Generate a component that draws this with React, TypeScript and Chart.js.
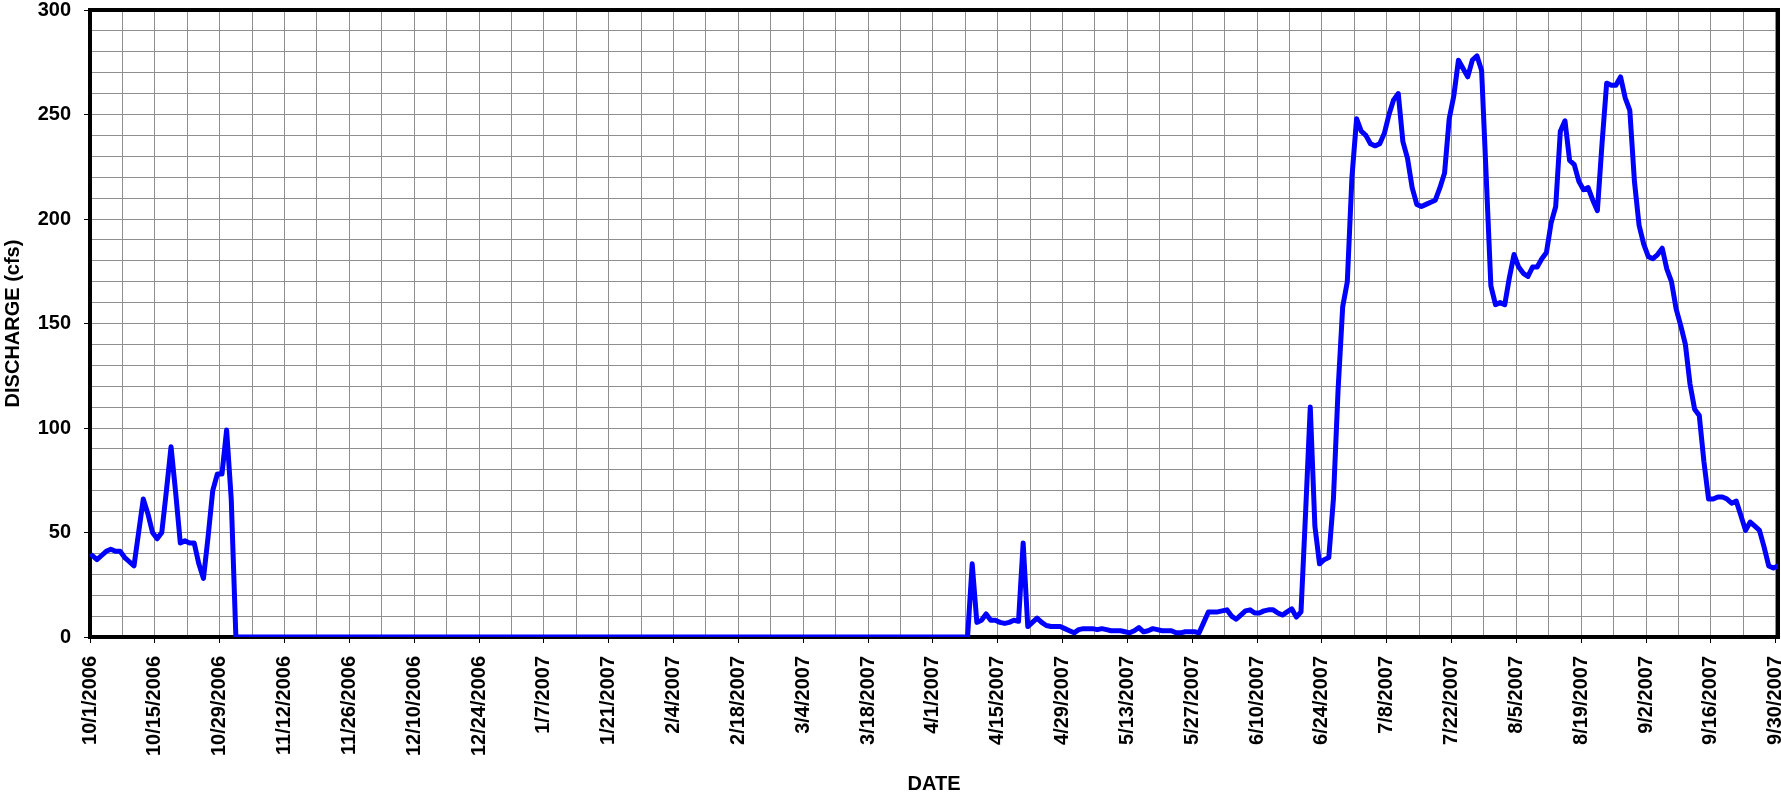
import React, { useEffect, useRef } from "react";
import { Chart, registerables } from "chart.js";

Chart.register(...registerables);

// Daily discharge (cfs), water year 10/1/2006 - 9/30/2007
const oct2006 = [39, 37, 39, 41, 42, 41, 41, 38, 36, 34, 50, 66, 59, 50, 47, 50, 70, 91, 69, 45, 46, 45, 45, 35, 28, 48, 70, 78, 78, 99, 66];
const nov2006 = [0, 0, 0, 0, 0, 0, 0, 0, 0, 0, 0, 0, 0, 0, 0, 0, 0, 0, 0, 0, 0, 0, 0, 0, 0, 0, 0, 0, 0, 0];
const dec2006 = [0, 0, 0, 0, 0, 0, 0, 0, 0, 0, 0, 0, 0, 0, 0, 0, 0, 0, 0, 0, 0, 0, 0, 0, 0, 0, 0, 0, 0, 0, 0];
const jan2007 = [0, 0, 0, 0, 0, 0, 0, 0, 0, 0, 0, 0, 0, 0, 0, 0, 0, 0, 0, 0, 0, 0, 0, 0, 0, 0, 0, 0, 0, 0, 0];
const feb2007 = [0, 0, 0, 0, 0, 0, 0, 0, 0, 0, 0, 0, 0, 0, 0, 0, 0, 0, 0, 0, 0, 0, 0, 0, 0, 0, 0, 0];
const mar2007 = [0, 0, 0, 0, 0, 0, 0, 0, 0, 0, 0, 0, 0, 0, 0, 0, 0, 0, 0, 0, 0, 0, 0, 0, 0, 0, 0, 0, 0, 0, 0];
const apr2007 = [0, 0, 0, 0, 0, 0, 0, 0, 35, 7, 8, 11, 8, 8, 7, 6.5, 7, 8, 7.5, 45, 5, 7, 9, 7, 5.5, 5, 5, 5, 4, 3];
const may2007 = [2, 3.5, 4, 4, 4, 3.5, 4, 3.5, 3, 3, 3, 2.5, 2, 3, 4.5, 2.5, 3, 4, 3.5, 3, 3, 3, 2, 2, 2.5, 2.5, 2.5, 2, 7, 12, 12];
const jun2007 = [12, 12.5, 13, 10, 8.5, 10.5, 12.5, 13, 11.5, 11.5, 12.5, 13, 13, 11.5, 10.5, 12, 13.5, 9.5, 12, 60, 110, 53, 35, 37, 38, 66, 118, 158, 170, 220];
const jul2007 = [248, 242, 240, 236, 235, 236, 241, 250, 257, 260, 237, 229, 215, 207, 206, 207, 208, 209, 215, 222, 248, 259, 276, 272, 268, 276, 278, 271, 220, 168, 159];
const aug2007 = [160, 159, 172, 183, 177, 174, 172.5, 177, 177, 181, 184, 198, 206, 242, 247, 228, 226, 218, 214, 215, 209, 204, 236, 265, 264, 264, 268, 258, 252, 218, 197];
const sep2007 = [188, 182, 181, 183, 186, 176, 170, 157, 149, 140, 121, 109, 106, 84, 66, 66, 67, 67, 66, 64, 65, 58, 51, 55, 53, 51, 43, 34, 33, 34];

const discharge = [
  ...oct2006, ...nov2006, ...dec2006, ...jan2007, ...feb2007, ...mar2007,
  ...apr2007, ...may2007, ...jun2007, ...jul2007, ...aug2007, ...sep2007,
];

const tickLabels = [
  "10/1/2006", "10/15/2006", "10/29/2006", "11/12/2006", "11/26/2006", "12/10/2006", "12/24/2006",
  "1/7/2007", "1/21/2007", "2/4/2007", "2/18/2007", "3/4/2007", "3/18/2007", "4/1/2007",
  "4/15/2007", "4/29/2007", "5/13/2007", "5/27/2007", "6/10/2007", "6/24/2007", "7/8/2007",
  "7/22/2007", "8/5/2007", "8/19/2007", "9/2/2007", "9/16/2007", "9/30/2007",
];

const yMin = 0;
const yMax = 300;
const yStep = 10;
const yLabelEvery = 50;

const FONT = '"Liberation Sans", Arial, Helvetica, sans-serif';
const GRID = "#8f8f8f";
const CLEAR = "rgba(0,0,0,0)";

export default function App() {
  const ref = useRef<HTMLCanvasElement>(null);

  useEffect(() => {
    document.body.style.margin = "0";
    const canvas = ref.current;
    if (!canvas) return;

    const framePlugin = {
      id: "frame",
      beforeDatasetsDraw(chart: any) {
        const { ctx, chartArea: a } = chart;
        ctx.save();
        ctx.strokeStyle = "#000";
        ctx.lineWidth = 4;
        ctx.strokeRect(a.left, a.top, a.right - a.left, a.bottom - a.top);
        ctx.restore();
      },
    };

    const font = { family: FONT, size: 20, weight: "bold" as const };

    const chart = new Chart(canvas, {
      type: "line",
      data: {
        datasets: [
          {
            data: discharge.map((v, i) => ({ x: i, y: v })),
            borderColor: "#0000ff",
            backgroundColor: "#0000ff",
            borderWidth: 5,
            pointRadius: 0,
            tension: 0,
            borderJoinStyle: "round",
            borderCapStyle: "round",
            fill: false,
          },
        ],
      },
      options: {
        animation: false,
        responsive: false,
        devicePixelRatio: 1,
        layout: { padding: { left: 0, top: 10, right: 3, bottom: 0 } },
        plugins: { legend: { display: false }, tooltip: { enabled: false } },
        scales: {
          x: {
            type: "linear",
            min: -0.5,
            max: 364,
            bounds: "data",
            afterBuildTicks: (scale: any) => {
              const t = [];
              for (let k = 0; k <= (tickLabels.length - 1) * 2; k++) t.push({ value: -0.5 + 7 * k });
              scale.ticks = t;
            },
            afterFit: (scale: any) => {
              scale.height = 159;
              scale.paddingLeft = 0;
              scale.paddingRight = 0;
            },
            ticks: {
              autoSkip: false,
              minRotation: 90,
              maxRotation: 90,
              padding: 13,
              color: "#000",
              font,
              callback: (_v: any, i: number) => (i % 2 === 0 ? tickLabels[i / 2] : ""),
            },
            grid: {
              color: GRID,
              lineWidth: 1,
              tickLength: 6,
              tickColor: (c: any) => (c.index % 2 === 0 ? "#000" : CLEAR),
            },
            border: { display: false },
            title: {
              display: true,
              text: "DATE",
              color: "#000",
              font,
              padding: { top: 0, bottom: 0 },
            },
          },
          y: {
            min: yMin,
            max: yMax,
            afterFit: (scale: any) => {
              scale.width = 90;
              scale.paddingTop = 0;
              scale.paddingBottom = 0;
            },
            ticks: {
              stepSize: yStep,
              autoSkip: false,
              padding: 13,
              color: "#000",
              font,
              callback: (v: any) => (Number(v) % yLabelEvery === 0 ? String(v) : ""),
            },
            grid: {
              color: GRID,
              lineWidth: 1,
              tickLength: 6,
              tickColor: (c: any) => (c.tick && c.tick.value % yLabelEvery === 0 ? "#000" : CLEAR),
            },
            border: { display: false },
            title: {
              display: true,
              text: "DISCHARGE (cfs)",
              color: "#000",
              font,
              padding: { top: 1, bottom: 0 },
            },
          },
        },
      },
      plugins: [framePlugin],
    } as any);

    return () => chart.destroy();
  }, []);

  return (
    <div style={{ width: 1781, height: 796, position: "relative", background: "#fff" }}>
      <canvas ref={ref} width={1781} height={796} style={{ display: "block" }} />
    </div>
  );
}
